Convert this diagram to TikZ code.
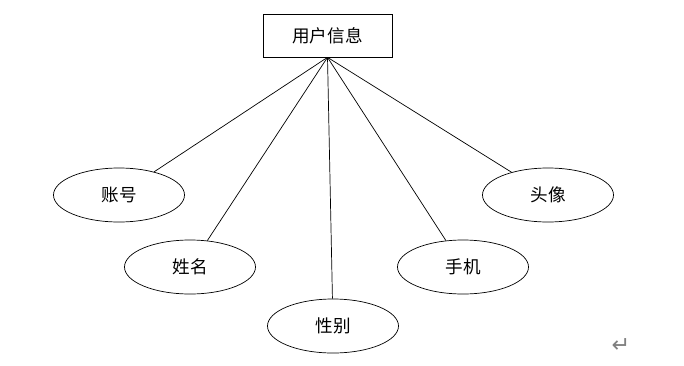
\documentclass[tikz,border=0pt]{standalone}
\usepackage{fontspec}
\newfontfamily\cjk{Noto Sans CJK SC}
\newfontfamily\symfont{DejaVu Sans}
\usetikzlibrary{shapes.geometric}
\begin{document}
\begin{tikzpicture}[x=0.03cm,y=-0.03cm,line width=0.6pt,
  entity/.style={draw,minimum width=3.87cm,minimum height=1.29cm,font=\cjk\fontsize{15}{18}\selectfont},
  attr/.style={draw,ellipse,inner sep=0pt,minimum width=3.93cm,minimum height=1.62cm,font=\cjk\fontsize{15}{18}\selectfont}]
\useasboundingbox (0,0) rectangle (684,365);
\node[entity] (info) at (327.5,35.5) {用户信息};
\foreach \name/\x/\y/\txt in {acct/119/195/账号, uname/190/267/姓名, sex/333/326/性别, phone/463/267/手机, avatar/548/195/头像}{
\node[attr] (\name) at (\x,\y) {\txt};
\draw (info.south) -- (\name);
}
\node[text=gray,font=\symfont\fontsize{19}{22}\selectfont] (ret) at (621,346) {↵};
\end{tikzpicture}
\end{document}
